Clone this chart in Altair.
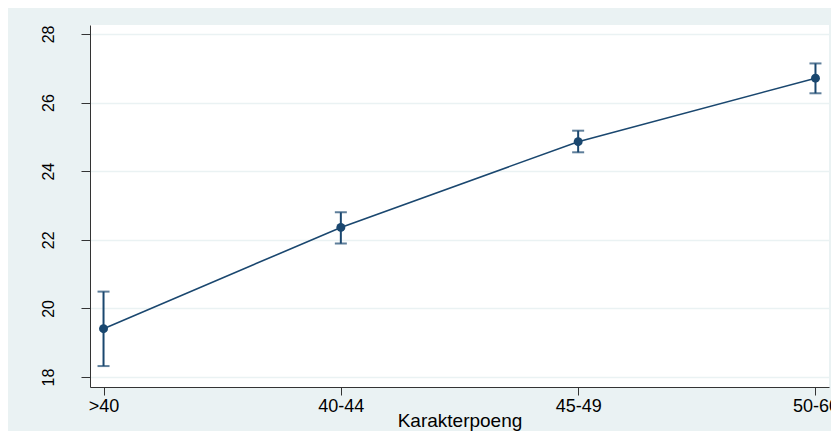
import altair as alt
import pandas as pd

categories = [">40", "40-44", "45-49", "50-60"]
means = [19.41, 22.36, 24.86, 26.71]
lower = [18.32, 21.89, 24.55, 26.27]
upper = [20.49, 22.80, 25.18, 27.14]

df = pd.DataFrame({"kat": categories, "mean": means, "lo": lower, "hi": upper})

NAVY = "#1A476F"
BG = "#EAF2F3"

x = alt.X("kat:N", sort=categories, title="Karakterpoeng",
          scale=alt.Scale(type="point", padding=0.057),
          axis=alt.Axis(labelAngle=0, labelFontSize=18, titleFontSize=19,
                        labelPadding=2, titlePadding=-4, tickSize=8,
                        domainColor="#333333", tickColor="#333333",
                        labelColor="#000000", titleColor="#000000",
                        titleFontWeight="normal", grid=False))
yscale = alt.Scale(domain=[17.71, 28.26], nice=False, zero=False)
yaxis = alt.Axis(values=[18, 20, 22, 24, 26, 28], labelAngle=270, labelAlign="center",
                 labelBaseline="bottom", labelFontSize=16, labelPadding=25, tickSize=9,
                 domainColor="#333333", tickColor="#333333", labelColor="#000000",
                 grid=True, gridColor=BG, gridWidth=1.5, title=None)

base = alt.Chart(df)

line = base.mark_line(color=NAVY, strokeWidth=1.6).encode(
    x=x, y=alt.Y("mean:Q", scale=yscale, axis=yaxis))
bars = base.mark_rule(color=NAVY, strokeWidth=2).encode(
    x=x, y=alt.Y("lo:Q", scale=yscale), y2="hi:Q")
cap_lo = base.mark_tick(color=NAVY, orient="horizontal", size=12, thickness=2).encode(
    x=x, y=alt.Y("lo:Q", scale=yscale))
cap_hi = base.mark_tick(color=NAVY, orient="horizontal", size=12, thickness=2).encode(
    x=x, y=alt.Y("hi:Q", scale=yscale))
pts = base.mark_point(color=NAVY, filled=True, opacity=1, size=80).encode(
    x=x, y=alt.Y("mean:Q", scale=yscale))

chart = alt.layer(line, bars, cap_lo, cap_hi, pts).properties(
    width=739, height=362,
    background=BG,
    view=alt.ViewBackground(fill="white", stroke=None),
    autosize=alt.AutoSizeParams(type="none"),
    padding={"left": 82, "top": 17, "right": 2, "bottom": 44},
).configure(
    font="Liberation Sans"
)

chart.save("out.html", embed_options={"renderer": "svg", "actions": False})
